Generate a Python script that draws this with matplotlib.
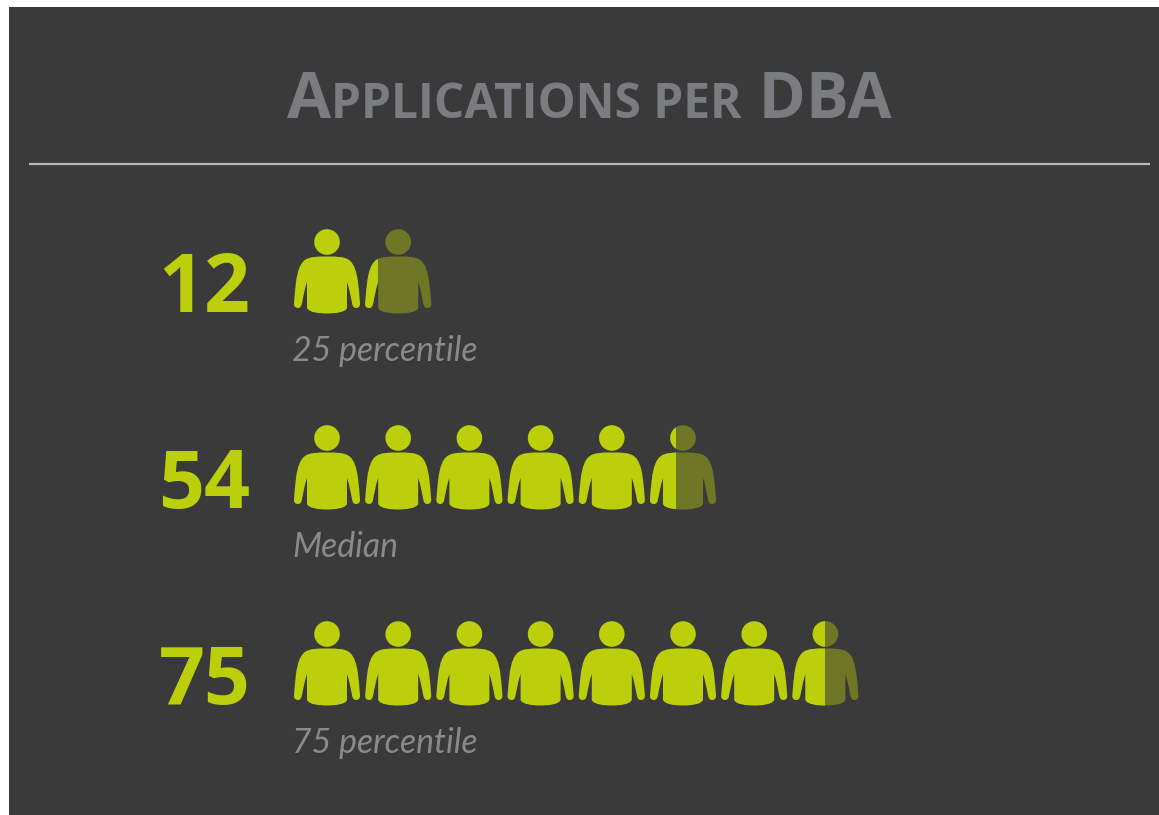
import matplotlib
matplotlib.use("Agg")
import matplotlib.pyplot as plt
from matplotlib.path import Path
from matplotlib.patches import PathPatch, Circle, Rectangle
from matplotlib.transforms import Affine2D

OUTPUT = "out.png"

# values and captions, one person stands for 10 applications
values = [12, 54, 75]
captions = ["25 percentile", "Median", "75 percentile"]
per_icon = 10

title_parts = [("A", 46), ("PPLICATIONS PER", 34.5), (" DBA", 46)]

BG = "#3a3a3a"
LIME = "#bbd00b"
DIM = "#6f7726"
TITLE_GREY = "#7b7c80"
RULE = "#b9b9b0"
CAPTION = "#8a8a8a"

W, H = 1159, 815

fig = plt.figure(figsize=(W / 100, H / 100), dpi=100, facecolor="white")
ax = fig.add_axes([0, 0, 1, 1])
ax.set_xlim(0, W)
ax.set_ylim(H, 0)
ax.axis("off")

ax.add_patch(Rectangle((9, 7), W - 9, H - 7, facecolor=BG, edgecolor="none"))
ax.plot([29, 1150], [163.5, 163.5], color=RULE, lw=1.6, solid_capstyle="butt")

# title is small caps, so the pieces are laid out one after the other
x = 287
renderer = fig.canvas.get_renderer()
for part, size in title_parts:
    t = ax.text(x, 118, part, fontsize=size, fontweight="bold", family="Open Sans",
                color=TITLE_GREY, ha="left", va="baseline")
    x += t.get_window_extent(renderer).width + (14 if part.startswith(" ") else 0)

# person glyph, origin is the middle of the head
body_verts = [
    (0, 14.5),
    (10, 14.5), (17, 14.5), (22, 18),
    (27, 21.5), (29.5, 29), (31, 40),
    (32, 48), (32.5, 55), (33, 61),
    (33.5, 65), (31, 66), (29, 66),
    (26.5, 66), (25.5, 64), (25, 61),
    (23.5, 54), (22.5, 47), (20, 40),
    (20, 50), (20, 60), (20, 66),
    (18, 70.5), (8, 71.5), (0, 71.5),
]
body_codes = [Path.MOVETO] + [Path.CURVE4] * 24
mirror = [(-a, b) for a, b in reversed(body_verts[:-1])]
body = Path(body_verts + mirror + [(0, 14.5)],
            body_codes + [Path.CURVE4] * len(mirror) + [Path.CLOSEPOLY])


def draw_person(cx, cy, color, clip=None):
    tr = Affine2D().translate(cx, cy) + ax.transData
    parts = [PathPatch(body, transform=tr, facecolor=color, edgecolor="none"),
             Circle((cx, cy), 12.8, facecolor=color, edgecolor="none")]
    for p in parts:
        ax.add_patch(p)
        if clip is not None:
            p.set_clip_path(clip)


icon_w = 66
pitch = 71.2
row_step = 196
for r, (value, caption) in enumerate(zip(values, captions)):
    cy = 242 + r * row_step
    whole = value // per_icon
    frac = (value % per_icon) / per_icon
    for i in range(whole):
        draw_person(327 + i * pitch, cy, LIME)
    cx = 327 + whole * pitch
    draw_person(cx, cy, DIM)
    left = Rectangle((cx - icon_w / 2, cy - 20), icon_w * frac, 100,
                     transform=ax.transData, facecolor="none", edgecolor="none")
    ax.add_patch(left)
    draw_person(cx, cy, LIME, clip=left)

    ax.text(250.5, cy + 70, str(value), fontsize=58, fontweight="bold", family="Open Sans",
            color=LIME, ha="right", va="baseline")
    ax.text(292, cy + 119, caption, fontsize=24.3, fontstyle="italic", fontweight="normal",
            family="Lato", color=CAPTION, ha="left", va="baseline")

fig.savefig(OUTPUT, dpi=100, facecolor="white")
